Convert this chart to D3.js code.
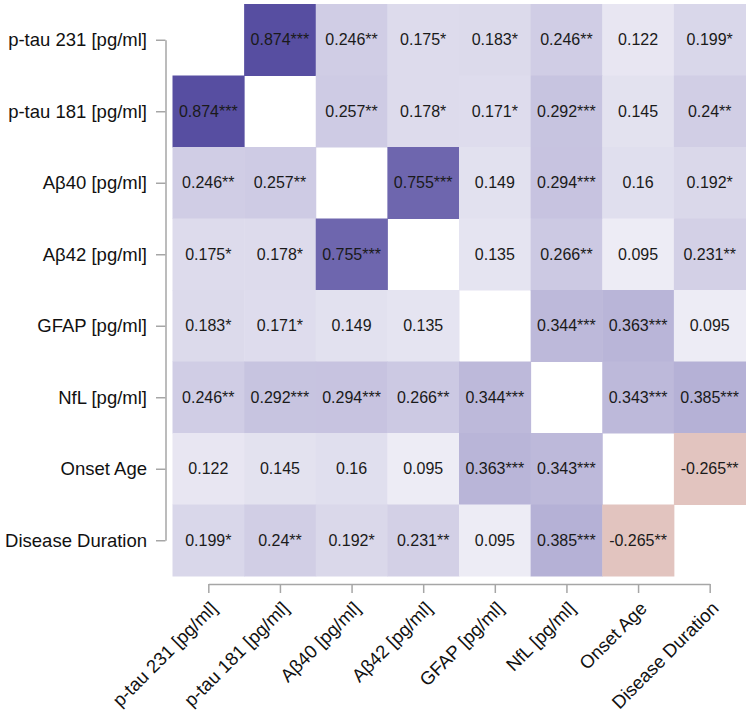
<!DOCTYPE html>
<html>
<head>
<meta charset="utf-8">
<script src="https://cdn.jsdelivr.net/npm/d3@7"></script>
<style>
  body { margin: 0; background: #fff; }
  svg { font-family: "Liberation Sans", Arial, sans-serif; }
  .axis path, .axis line { stroke: #a6a6a6; stroke-width: 1.5px; }
  .axis text { fill: #111; font-size: 18.5px; }
</style>
</head>
<body>
<div id="chart"></div>
<script>
var labels = ['p-tau 231 [pg/ml]', 'p-tau 181 [pg/ml]', 'A\u03b240 [pg/ml]', 'A\u03b242 [pg/ml]',
    'GFAP [pg/ml]', 'NfL [pg/ml]', 'Onset Age', 'Disease Duration'];

// correlation coefficients, null on the diagonal
var values = [
    [null, 0.874, 0.246, 0.175, 0.183, 0.246, 0.122, 0.199],
    [0.874, null, 0.257, 0.178, 0.171, 0.292, 0.145, 0.24],
    [0.246, 0.257, null, 0.755, 0.149, 0.294, 0.16, 0.192],
    [0.175, 0.178, 0.755, null, 0.135, 0.266, 0.095, 0.231],
    [0.183, 0.171, 0.149, 0.135, null, 0.344, 0.363, 0.095],
    [0.246, 0.292, 0.294, 0.266, 0.344, null, 0.343, 0.385],
    [0.122, 0.145, 0.16, 0.095, 0.363, 0.343, null, -0.265],
    [0.199, 0.24, 0.192, 0.231, 0.095, 0.385, -0.265, null]
];

// significance stars
var stars = [
    ['', '***', '**', '*', '*', '**', '', '*'],
    ['***', '', '**', '*', '*', '***', '', '**'],
    ['**', '**', '', '***', '', '***', '', '*'],
    ['*', '*', '***', '', '', '**', '', '**'],
    ['*', '*', '', '', '', '***', '***', ''],
    ['**', '***', '***', '**', '***', '', '***', '***'],
    ['', '', '', '', '***', '***', '', '**'],
    ['*', '**', '*', '**', '', '***', '**', '']
];

var width = 749, height = 718;
var grid = {left: 172.5, right: 745.5, top: 4, bottom: 576};

var svg = d3.select('#chart').append('svg')
    .attr('width', width)
    .attr('height', height);

var x = d3.scaleBand().domain(labels).range([grid.left, grid.right]);
var y = d3.scaleBand().domain(labels).range([grid.top, grid.bottom]);

var color = d3.scaleLinear()
    .domain([-1, 0, 1])
    .range(['#92200f', '#ffffff', '#3f3494']);

var cells = [];
values.forEach(function(row, i) {
    row.forEach(function(v, j) {
        cells.push({row: labels[i], col: labels[j], value: v, stars: stars[i][j]});
    });
});

var g = svg.append('g');

g.selectAll('rect')
    .data(cells.filter(function(d) { return d.value !== null; }))
    .enter().append('rect')
        .attr('x', function(d) { return x(d.col); })
        .attr('y', function(d) { return y(d.row); })
        .attr('width', x.bandwidth() + 0.5)
        .attr('height', y.bandwidth() + 0.5)
        .attr('fill', function(d) { return color(d.value); });

g.selectAll('text')
    .data(cells.filter(function(d) { return d.value !== null; }))
    .enter().append('text')
        .attr('x', function(d) { return x(d.col) + x.bandwidth() / 2; })
        .attr('y', function(d) { return y(d.row) + y.bandwidth() / 2; })
        .attr('dy', '0.35em')
        .attr('text-anchor', 'middle')
        .style('font-size', '16px')
        .style('fill', '#1a1a1a')
        .text(function(d) { return d.value + d.stars; });

// R-style axes: line runs from first to last tick only
var xp = d3.scalePoint().domain(labels)
    .range([grid.left + x.bandwidth() / 2, grid.right - x.bandwidth() / 2]);
var yp = d3.scalePoint().domain(labels)
    .range([grid.top + y.bandwidth() / 2, grid.bottom - y.bandwidth() / 2]);

var yAxis = svg.append('g')
    .attr('class', 'axis')
    .attr('transform', 'translate(165.5,0)')
    .call(d3.axisLeft(yp).tickSize(9.5).tickSizeOuter(0).tickPadding(9));

var xAxis = svg.append('g')
    .attr('class', 'axis')
    .attr('transform', 'translate(0,584)')
    .call(d3.axisBottom(xp).tickSize(9).tickSizeOuter(0));

xAxis.selectAll('text')
    .attr('text-anchor', 'end')
    .attr('dy', '0.35em')
    .attr('transform', 'translate(5,21) rotate(-45)')
    .attr('y', 0)
    .attr('x', 0);
</script>
</body>
</html>
